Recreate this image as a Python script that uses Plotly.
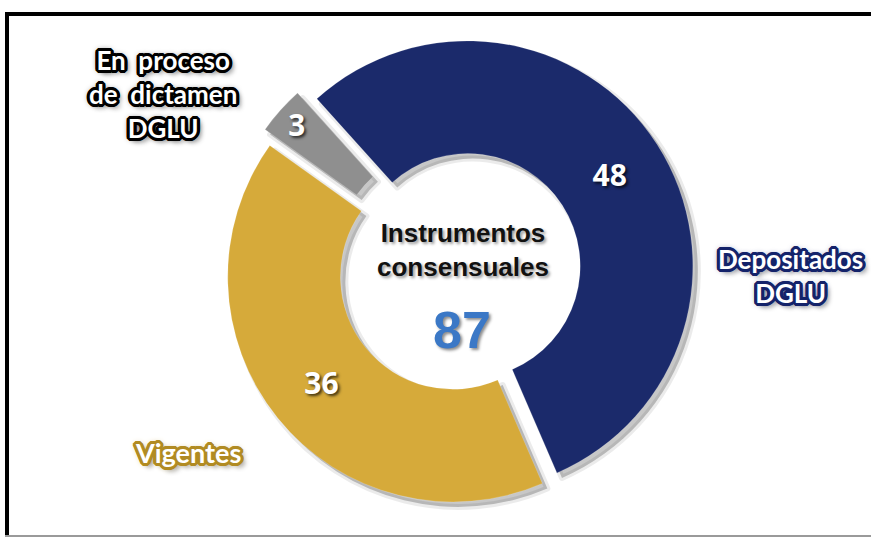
import plotly.graph_objects as go

# Instrument status breakdown
labels = ["Depositados DGLU", "Vigentes", "En proceso de dictamen DGLU"]
values = [48, 36, 3]
colors = ["#1b2a6b", "#d6aa3a", "#8f8f8f"]
pulls = [0.04, 0.04, 0.07]
total = sum(values)

W, H = 871, 538
FONT_LBL = "Lato, 'Open Sans', sans-serif"
FONT_CTR = "'Liberation Sans Narrow', 'Arial Narrow', 'Liberation Sans', sans-serif"


def px(x):
    return x / W


def py(y):
    return 1 - y / H


def outline(col, w=3):
    parts = []
    for a in range(-w, w + 1):
        for b in range(-w, w + 1):
            if (a, b) != (0, 0) and abs(a) + abs(b) <= w + 1:
                parts.append(f"{a}px {b}px 0 {col}")
    parts.append(f"0 0 6px {col}")
    parts.append("4px 4px 5px rgba(0,0,0,0.45)")
    return ", ".join(parts)


dom_x = [px(219), px(701)]
dom_y = [py(512), py(30)]
sh = 5  # shadow offset in px
common = dict(
    labels=labels,
    values=values,
    hole=0.5,
    sort=False,
    direction="clockwise",
    rotation=-42,
    pull=pulls,
    showlegend=False,
    hoverinfo="skip",
)

fig = go.Figure()

# soft drop shadow under the ring
fig.add_trace(go.Pie(
    **common,
    domain=dict(x=[dom_x[0] + px(sh), dom_x[1] + px(sh)],
                y=[dom_y[0] - sh / H, dom_y[1] - sh / H]),
    marker=dict(colors=["rgba(0,0,0,0.22)"] * 3,
                line=dict(color="rgba(0,0,0,0.08)", width=6)),
    textinfo="none",
))

# main ring
fig.add_trace(go.Pie(
    **common,
    domain=dict(x=dom_x, y=dom_y),
    marker=dict(colors=colors, line=dict(color="rgba(255,255,255,0.15)", width=1)),
    texttemplate="%{value}",
    textposition="inside",
    insidetextorientation="horizontal",
    insidetextfont=dict(family="'Open Sans', sans-serif", size=30, color="white",
                        weight="bold", shadow="2px 2px 3px rgba(0,0,0,0.7)"),
))

annotations = [
    dict(x=px(163), y=py(94), text="En  proceso<br>de  dictamen<br>DGLU",
         font=dict(family=FONT_LBL, size=26, color="white", weight="bold",
                   shadow=outline("#000000")), align="center"),
    dict(x=px(790), y=py(276), text="Depositados<br>DGLU",
         font=dict(family=FONT_LBL, size=26, color="white", weight="bold",
                   shadow=outline("#14236a")), align="center"),
    dict(x=px(188), y=py(452), text="Vigentes",
         font=dict(family=FONT_LBL, size=27, color="white", weight="bold",
                   shadow=outline("#b18b22")), align="center"),
    dict(x=px(463), y=py(250), text="Instrumentos<br>consensuales",
         font=dict(family=FONT_CTR, size=26, color="#111111", weight="bold",
                   shadow="2px 2px 3px rgba(0,0,0,0.4)"), align="center"),
    dict(x=px(462), y=py(330), text=str(total),
         font=dict(family=FONT_CTR, size=52, color="#3b78c6", weight="bold",
                   shadow="2px 2px 3px rgba(0,0,0,0.45)"), align="center"),
]
for a in annotations:
    a.update(xref="paper", yref="paper", showarrow=False, xanchor="center", yanchor="middle")

# frame around the graphic
shapes = [
    dict(type="line", x0=px(5), x1=1, y0=py(14), y1=py(14), line=dict(color="black", width=4)),
    dict(type="line", x0=px(7), x1=px(7), y0=py(12), y1=py(536), line=dict(color="black", width=4)),
    dict(type="line", x0=px(5), x1=1, y0=py(536), y1=py(536), line=dict(color="#9a9a9a", width=2)),
]
for s in shapes:
    s.update(xref="paper", yref="paper")

fig.update_layout(
    width=W, height=H,
    margin=dict(l=0, r=0, t=0, b=0),
    paper_bgcolor="white",
    plot_bgcolor="white",
    annotations=annotations,
    shapes=shapes,
)

fig.write_html("out.html")
